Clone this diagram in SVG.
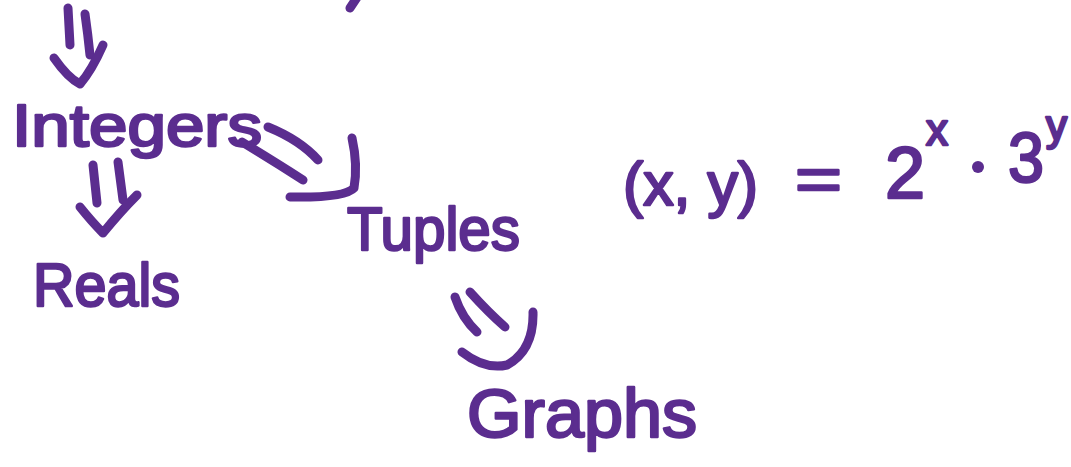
<svg xmlns="http://www.w3.org/2000/svg" width="1071" height="467" viewBox="0 0 1071 467">
<style>
.t{font-family:"Liberation Sans",Arial,sans-serif;fill:#5B2D8F;stroke:#5B2D8F;stroke-width:2.5;stroke-linejoin:round}
.s{fill:none;stroke:#5B2D8F;stroke-width:9;stroke-linecap:round;stroke-linejoin:round}
</style>
<rect width="1071" height="467" fill="#ffffff"/>
<g id="connectors">
<path class="s" d="M350 8 L358 -4"/>
<g id="arrow-top">
<path class="s" d="M68 8 L70 45"/>
<path class="s" d="M85 14 Q88 35 90 55"/>
<path class="s" d="M54 58 Q68 78 80 84 Q92 70 103 45"/>
</g>
<g id="arrow-integers-reals">
<path class="s" d="M93 165 L97 203"/>
<path class="s" d="M118 162 L123 200"/>
<path class="s" d="M80 207 Q92 222 103 233 Q120 212 137 195"/>
</g>
<g id="arrow-integers-tuples">
<path class="s" d="M242 142 Q275 162 303 180"/>
<path class="s" d="M268 127 Q300 140 318 160"/>
<path class="s" d="M352 138 Q358 165 354 188 Q345 198 290 197"/>
</g>
<g id="arrow-tuples-graphs">
<path class="s" d="M455 297 Q462 318 477 332"/>
<path class="s" d="M470 292 Q488 312 505 327"/>
<path class="s" d="M533 312 Q534 350 507 365 Q485 370 462 352"/>
</g>
</g>
<g id="node-integers"><text class="t" x="12" y="146" font-size="60" textLength="250" lengthAdjust="spacingAndGlyphs">Integers</text></g>
<g id="node-reals"><text class="t" x="33" y="306" font-size="62" textLength="147" lengthAdjust="spacingAndGlyphs">Reals</text></g>
<g id="node-tuples"><text class="t" x="347" y="250" font-size="62" textLength="173" lengthAdjust="spacingAndGlyphs">Tuples</text></g>
<g id="node-graphs"><text class="t" x="467" y="437" font-size="68" textLength="230" lengthAdjust="spacingAndGlyphs">Graphs</text></g>
<g id="node-formula">
<text class="t" x="623" y="205" font-size="62" textLength="135" lengthAdjust="spacingAndGlyphs">(x, y)</text>
<text class="t" x="795" y="200" font-size="62" textLength="47" lengthAdjust="spacingAndGlyphs">=</text>
<text class="t" x="885" y="198" font-size="72">2</text>
<text class="t" x="926" y="145" font-size="44">x</text>
<circle cx="978" cy="167" r="6" fill="#5B2D8F"/>
<text class="t" x="1008" y="182" font-size="70" textLength="36" lengthAdjust="spacingAndGlyphs">3</text>
<text class="t" x="1046" y="140" font-size="42">y</text>
</g>
</svg>
